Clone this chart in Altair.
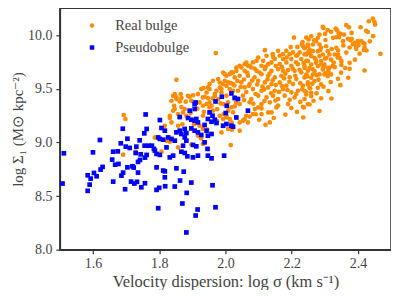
import altair as alt
import pandas as pd

x_ticks = [1.6, 1.8, 2.0, 2.2, 2.4]
y_ticks = [8.0, 8.5, 9.0, 9.5, 10.0]
categories = ["Real bulge", "Pseudobulge"]
colors = ["#ff8c00", "#0000ff"]
shapes = ["circle", "square"]

real_bulge = [
    (1.693, 9.256), (1.698, 9.219), (1.691, 8.886), (1.729, 8.914), (1.787, 9.047), (1.807, 8.914),
    (1.822, 9.017), (1.832, 9.007), (1.857, 8.954), (1.897, 8.980), (1.932, 8.986), (2.016, 8.976),
    (1.852, 9.584), (1.971, 9.833),
    (1.842, 9.435), (1.837, 9.389), (1.847, 9.451), (1.852, 9.420), (1.865, 9.451), (1.867, 9.414),
    (1.862, 9.382), (1.892, 9.426), (1.897, 9.389), (1.917, 9.451), (1.927, 9.498), (1.937, 9.426),
    (1.947, 9.513), (1.952, 9.373), (1.968, 9.451), (1.978, 9.405), (1.988, 9.498), (1.993, 9.358),
    (1.852, 9.404), (1.847, 9.312), (1.832, 9.249), (1.857, 9.265), (1.872, 9.280), (1.877, 9.312),
    (1.882, 9.249), (1.922, 9.373), (1.932, 9.342), (1.943, 9.358), (1.952, 9.327), (1.962, 9.296),
    (1.932, 9.249), (1.817, 9.156), (1.837, 9.187), (1.857, 9.156), (1.922, 9.156), (1.932, 9.126),
    (1.945, 9.120), (1.983, 9.249), (1.993, 9.219), (2.003, 9.249), (2.008, 9.126), (1.988, 9.094),
    (1.917, 9.063), (1.927, 9.038),
    (1.998, 9.637), (1.993, 9.544), (1.983, 9.513), (2.003, 9.528), (1.973, 9.482), (1.988, 9.466),
    (1.968, 9.435), (1.952, 9.498), (1.943, 9.466), (1.932, 9.420), (1.947, 9.414), (1.887, 9.435),
    (1.962, 9.575), (1.983, 9.559), (1.998, 9.575), (1.934, 9.507), (1.952, 9.544), (1.978, 9.591),
    (1.993, 9.652), (2.023, 9.652), (2.033, 9.699), (2.063, 9.745), (2.073, 9.714), (2.143, 9.823),
    (2.174, 9.823), (2.234, 9.900), (1.832, 9.228), (1.842, 9.296), (1.867, 9.330),
    (2.207, 9.978), (2.244, 9.978), (2.217, 9.891), (2.231, 9.916), (2.239, 9.879), (2.249, 9.900),
    (2.119, 9.860), (2.159, 9.854), (2.184, 9.854), (2.204, 9.839), (2.224, 9.839), (2.249, 9.839),
    (2.194, 9.823), (2.239, 9.823), (2.099, 9.792), (2.114, 9.761), (2.124, 9.808), (2.149, 9.777),
    (2.164, 9.808), (2.174, 9.777), (2.214, 9.808), (2.229, 9.777), (2.199, 9.777), (2.244, 9.761),
    (2.043, 9.715), (2.048, 9.699), (2.058, 9.730), (2.068, 9.715), (2.083, 9.746), (2.094, 9.761),
    (2.139, 9.746), (2.129, 9.730), (2.164, 9.730), (2.184, 9.746), (2.199, 9.715), (2.219, 9.730),
    (2.239, 9.715), (2.109, 9.715), (2.018, 9.653), (2.013, 9.637), (2.033, 9.668), (2.058, 9.668),
    (2.078, 9.699), (2.094, 9.668), (2.119, 9.684), (2.139, 9.668), (2.159, 9.684), (2.174, 9.668),
    (2.189, 9.674), (2.209, 9.668), (2.229, 9.653), (2.249, 9.668), (2.003, 9.622), (2.028, 9.606),
    (2.043, 9.622), (2.068, 9.622), (2.088, 9.606), (2.109, 9.637), (2.129, 9.622), (2.149, 9.606),
    (2.169, 9.622), (2.194, 9.606), (2.214, 9.591), (2.239, 9.606), (2.008, 9.560), (2.023, 9.544),
    (2.048, 9.560), (2.073, 9.544), (2.099, 9.575), (2.119, 9.560), (2.139, 9.544), (2.164, 9.560),
    (2.184, 9.529), (2.204, 9.544), (2.234, 9.529), (2.249, 9.560), (2.013, 9.498), (2.038, 9.482),
    (2.058, 9.513), (2.083, 9.498), (2.109, 9.482), (2.129, 9.513), (2.149, 9.482), (2.174, 9.498),
    (2.199, 9.467), (2.219, 9.482), (2.244, 9.467), (2.003, 9.436), (2.028, 9.420), (2.053, 9.436),
    (2.078, 9.405), (2.099, 9.436), (2.124, 9.420), (2.144, 9.436), (2.159, 9.405), (2.179, 9.436),
    (2.209, 9.420), (2.239, 9.405), (2.008, 9.374), (2.043, 9.358), (2.073, 9.374), (2.109, 9.358),
    (2.134, 9.374), (2.159, 9.343), (2.189, 9.358), (2.199, 9.321), (2.234, 9.333), (2.249, 9.358),
    (2.018, 9.327), (2.028, 9.336), (2.008, 9.296), (2.023, 9.280), (2.003, 9.234), (2.013, 9.218),
    (2.018, 9.187), (2.043, 9.187), (2.053, 9.203), (2.058, 9.218), (2.068, 9.187), (2.063, 9.249),
    (2.083, 9.265), (2.089, 9.311), (2.099, 9.327), (2.109, 9.317), (2.109, 9.265), (2.129, 9.280),
    (2.139, 9.280), (2.154, 9.327), (2.237, 9.327), (2.235, 9.233), (2.134, 9.187), (2.043, 9.110),
    (2.020, 9.119),
    (2.433, 10.130), (2.445, 10.155), (2.450, 10.124), (2.452, 10.099), (2.468, 9.826), (2.420, 9.671),
    (2.426, 9.857), (2.430, 10.030), (2.408, 10.074), (2.365, 10.093), (2.373, 10.074), (2.333, 10.061),
    (2.337, 10.047), (2.296, 10.068), (2.319, 10.031), (2.301, 10.012), (2.343, 9.981), (2.335, 9.981),
    (2.348, 10.012), (2.358, 10.006), (2.370, 9.966), (2.377, 9.953), (2.381, 9.966), (2.395, 9.891),
    (2.402, 9.907), (2.410, 9.944), (2.416, 9.928), (2.420, 9.919), (2.375, 9.742), (2.375, 9.686),
    (2.350, 9.758), (2.350, 9.721), (2.340, 9.593), (2.320, 9.410), (2.284, 9.293), (2.335, 9.882),
    (2.340, 9.857), (2.330, 9.820), (2.340, 9.820), (2.345, 9.789), (2.309, 9.851), (2.314, 9.820),
    (2.305, 9.789), (2.319, 9.773), (2.299, 9.727), (2.294, 9.680), (2.309, 9.696), (2.324, 9.712),
    (2.330, 9.702), (2.279, 9.975), (2.274, 9.944), (2.284, 9.913), (2.289, 9.882), (2.279, 9.851),
    (2.284, 9.805), (2.289, 9.758), (2.279, 9.712), (2.269, 9.665), (2.264, 9.633), (2.249, 9.913),
    (2.254, 9.866), (2.244, 9.820), (2.259, 9.805), (2.249, 9.758), (2.254, 9.696), (2.244, 9.633),
    (2.259, 9.603), (2.249, 9.540), (2.254, 9.510), (2.244, 9.447), (2.254, 9.354), (2.259, 9.463),
    (2.239, 9.882), (2.264, 9.851), (2.269, 9.789), (2.259, 9.727), (2.274, 9.742), (2.239, 9.696),
    (2.269, 9.572), (2.284, 9.634), (2.289, 9.541), (2.299, 9.634), (2.304, 9.650), (2.289, 9.727),
    (2.279, 9.510), (2.259, 9.432), (2.239, 9.479), (2.309, 9.619), (2.319, 9.634), (2.314, 9.696),
    (2.294, 9.820), (2.304, 9.897), (2.264, 9.913), (2.251, 9.960), (2.284, 10.006), (2.259, 9.990),
    (2.325, 9.975), (2.355, 9.944), (2.390, 9.929), (2.400, 9.944), (2.425, 10.040), (2.365, 9.838),
    (2.375, 9.885), (2.385, 9.916), (2.294, 10.077), (2.309, 10.047), (2.420, 9.885),
    (2.063, 9.470), (2.091, 9.452), (2.117, 9.495), (2.138, 9.458), (2.162, 9.471), (2.187, 9.489),
    (2.214, 9.452), (2.232, 9.497), (2.256, 9.505), (2.071, 9.528), (2.096, 9.541), (2.112, 9.521),
    (2.152, 9.535), (2.171, 9.525), (2.193, 9.566), (2.226, 9.553), (2.262, 9.548), (2.281, 9.585),
    (2.056, 9.587), (2.081, 9.577), (2.127, 9.588), (2.143, 9.579), (2.177, 9.598), (2.211, 9.622),
    (2.247, 9.615), (2.276, 9.627), (2.311, 9.661), (2.066, 9.648), (2.103, 9.652), (2.133, 9.641),
    (2.181, 9.641), (2.203, 9.689), (2.224, 9.677), (2.263, 9.683), (2.296, 9.701), (2.327, 9.745),
    (2.088, 9.689), (2.122, 9.706), (2.152, 9.714), (2.171, 9.702), (2.213, 9.748), (2.236, 9.741),
    (2.273, 9.768), (2.301, 9.782), (2.339, 9.792), (2.144, 9.797), (2.185, 9.793), (2.218, 9.815),
    (2.254, 9.832), (2.286, 9.861), (2.321, 9.871), (2.356, 9.905), (2.197, 9.889), (2.233, 9.936),
    (2.268, 9.951), (2.302, 9.955), (2.342, 10.017), (2.381, 10.021), (2.226, 9.378), (2.194, 9.398),
    (2.151, 9.391), (2.118, 9.386), (2.084, 9.362), (2.056, 9.395), (2.032, 9.371), (2.023, 9.482),
    (2.016, 9.553), (2.036, 9.574), (2.027, 9.531), (2.046, 9.517), (2.275, 9.458), (2.296, 9.519),
    (2.318, 9.563), (2.349, 9.651), (2.362, 9.693), (2.391, 9.772), (2.405, 9.828), (2.418, 9.862),
    (2.436, 9.943), (2.446, 9.991), (2.266, 9.389), (2.216, 9.285), (2.181, 9.259), (2.146, 9.228),
    (2.102, 9.212), (2.073, 9.241), (2.121, 9.164), (2.092, 9.263), (2.289, 9.411), (2.311, 9.478),
    (2.347, 9.534), (2.371, 9.603), (2.395, 9.872),
    (1.862, 9.236), (1.895, 9.275), (1.915, 9.315), (1.935, 9.285), (1.958, 9.342), (1.975, 9.310),
    (1.985, 9.365), (1.962, 9.411), (1.902, 9.440), (1.880, 9.380), (1.845, 9.342), (1.995, 9.265),
    (1.975, 9.200), (1.905, 9.170), (1.870, 9.170),
]

pseudobulge = [
    (1.759, 9.261), (1.690, 9.128), (1.762, 9.126), (1.755, 9.085), (1.704, 9.035), (1.621, 9.023),
    (1.741, 9.020), (1.684, 8.992), (1.699, 8.961), (1.711, 8.949), (1.731, 8.961), (1.756, 8.970),
    (1.768, 8.970), (1.512, 8.899), (1.600, 8.908), (1.661, 8.914), (1.675, 8.917), (1.729, 8.902),
    (1.744, 8.889), (1.762, 8.884), (1.757, 8.859), (1.742, 8.837), (1.736, 8.819), (1.658, 8.840),
    (1.667, 8.793), (1.677, 8.800), (1.704, 8.768), (1.719, 8.778), (1.723, 8.766), (1.629, 8.772),
    (1.623, 8.747), (1.603, 8.716), (1.584, 8.694), (1.593, 8.663), (1.611, 8.685), (1.691, 8.719),
    (1.686, 8.691), (1.736, 8.719), (1.661, 8.635), (1.715, 8.635), (1.725, 8.617), (1.733, 8.633),
    (1.757, 8.620), (1.746, 8.582), (1.508, 8.617), (1.590, 8.607), (1.584, 8.549), (1.697, 8.564),
    (1.817, 8.731), (1.874, 8.728), (1.817, 8.675), (1.792, 8.558), (1.800, 8.577), (1.818, 8.592),
    (1.847, 8.589), (1.863, 8.645), (1.897, 8.626), (1.961, 8.601), (1.883, 8.530), (1.870, 8.431),
    (1.797, 8.387), (1.916, 8.375), (1.970, 8.396), (1.910, 8.319), (1.882, 8.161),
    (1.910, 9.373), (1.907, 9.312), (1.892, 9.296), (1.970, 9.382), (1.989, 9.426), (2.004, 9.342),
    (2.001, 9.274), (1.802, 9.209), (1.862, 9.237), (1.887, 9.228), (1.897, 9.212), (1.907, 9.203),
    (1.912, 9.219), (1.917, 9.187), (1.947, 9.219), (1.958, 9.193), (1.968, 9.212), (1.973, 9.181),
    (1.993, 9.156), (2.003, 9.172), (1.937, 9.163), (1.807, 9.135), (1.817, 9.110), (1.852, 9.094),
    (1.862, 9.110), (1.867, 9.079), (1.877, 9.126), (1.882, 9.088), (1.897, 9.131), (1.907, 9.110),
    (1.917, 9.094), (1.927, 9.070), (1.943, 9.110), (1.947, 9.063), (1.958, 9.079), (1.797, 9.047),
    (1.802, 9.033), (1.812, 9.026), (1.827, 9.047), (1.837, 9.033), (1.847, 9.017), (1.877, 9.047),
    (1.882, 9.017), (1.937, 9.001), (1.778, 8.970), (1.784, 8.940), (1.822, 8.954), (1.872, 8.970),
    (1.902, 8.977), (1.912, 8.964), (1.946, 8.940), (1.787, 8.924), (1.792, 8.893), (1.802, 8.884),
    (1.832, 8.861), (1.842, 8.877), (1.867, 8.914), (1.877, 8.902), (1.885, 8.871), (1.902, 8.861),
    (1.917, 8.877), (1.947, 8.877), (1.958, 8.852), (1.996, 8.877), (1.792, 8.768), (1.812, 8.738),
    (1.852, 8.759),
    (2.018, 9.457), (2.028, 9.414), (2.038, 9.405), (1.907, 9.358), (2.068, 9.296), (2.033, 9.233),
    (1.952, 9.280), (1.961, 9.249), (2.018, 9.156), (2.023, 9.147),
]

rows = [{"sigma": x, "sigma1": y, "type": categories[0]} for x, y in real_bulge]
rows += [{"sigma": x, "sigma1": y, "type": categories[1]} for x, y in pseudobulge]
df = pd.DataFrame(rows)

FONT = "Liberation Serif"
TXT = "#444444"
FRAME = "#333333"

legend = alt.Legend(orient="none", legendX=25, legendY=10, title=None,
                    labelOffset=16, symbolSize=20, rowPadding=7,
                    labelFontSize=14.5, labelFont=FONT, labelColor=TXT)

chart = alt.Chart(df).mark_point(filled=True, opacity=1, size=22).encode(
    x=alt.X("sigma:Q",
            scale=alt.Scale(domain=[1.5, 2.5], nice=False, zero=False),
            axis=alt.Axis(values=x_ticks, format=".1f", grid=False,
                          title="Velocity dispersion:  log σ  (km s⁻¹)",
                          tickSize=4, labelPadding=3, titlePadding=3)),
    y=alt.Y("sigma1:Q",
            scale=alt.Scale(domain=[8.0, 10.25], nice=False, zero=False),
            axis=alt.Axis(values=y_ticks, format=".1f", grid=False,
                          title="log Σ₁  (M⊙ kpc⁻²)", titleFontSize=15,
                          tickSize=4, labelPadding=4, titlePadding=2)),
    color=alt.Color("type:N",
                    scale=alt.Scale(domain=categories, range=colors),
                    legend=legend),
    shape=alt.Shape("type:N",
                    scale=alt.Scale(domain=categories, range=shapes),
                    legend=legend),
).properties(
    width=332, height=242,
    autosize=alt.AutoSizeParams(type="none"),
    padding={"left": 52, "top": 0, "right": 0, "bottom": 40},
).configure_view(
    stroke=FRAME, strokeWidth=1.5
).configure_axis(
    labelFont=FONT, titleFont=FONT, labelFontSize=14, titleFontSize=16.5,
    labelColor=TXT, titleColor=TXT, titleFontWeight="normal",
    domainColor=FRAME, domainWidth=1.5, tickColor=FRAME, tickWidth=1.2,
)

chart.save("out.html", embed_options={"renderer": "svg", "actions": False})
